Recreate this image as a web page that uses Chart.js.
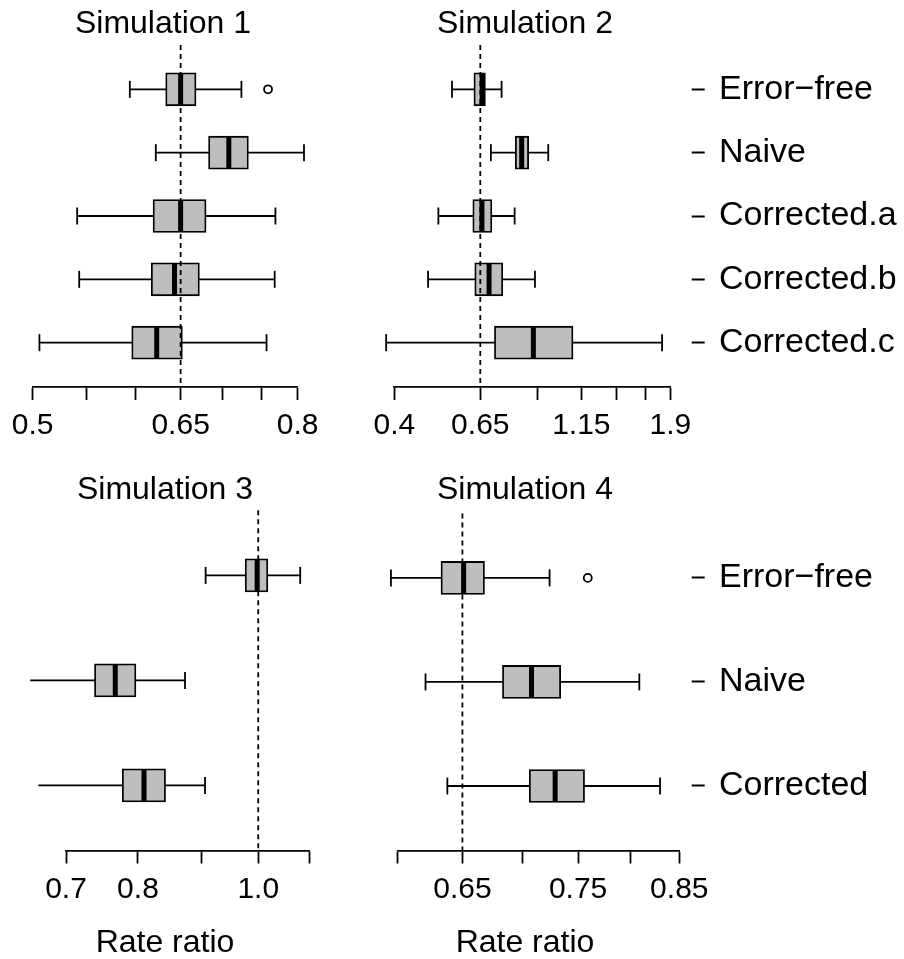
<!DOCTYPE html>
<html>
<head>
<meta charset="utf-8">
<script src="https://cdn.jsdelivr.net/npm/chart.js@4.4.1/dist/chart.umd.min.js"></script>
<style>
  html, body { margin: 0; padding: 0; background: #fff; }
  #page { position: relative; width: 904px; height: 959px; overflow: hidden; font-family: 'Liberation Sans', Arial, Helvetica, sans-serif; }
  canvas { position: absolute; }
  .lbl { position: absolute; width: 300px; text-align: center; font-size: 32px; line-height: 32px; color: #000; white-space: nowrap; }
</style>
</head>
<body>
<div id="page">
  <canvas id="sim1" width="340" height="479" style="left:0;top:0"></canvas>
  <canvas id="sim2" width="564" height="479" style="left:340px;top:0"></canvas>
  <canvas id="sim3" width="340" height="480" style="left:0;top:479px"></canvas>
  <canvas id="sim4" width="564" height="480" style="left:340px;top:479px"></canvas>
  <div class="lbl" style="left:13px;top:6px">Simulation 1</div>
  <div class="lbl" style="left:375px;top:6px">Simulation 2</div>
  <div class="lbl" style="left:15px;top:472px">Simulation 3</div>
  <div class="lbl" style="left:375px;top:472px">Simulation 4</div>
  <div class="lbl" style="left:15px;top:925px">Rate ratio</div>
  <div class="lbl" style="left:375px;top:925px">Rate ratio</div>
</div>
<script>
// ── Rate ratio boxplots, four simulations (log x axis) ───────────────────────
Chart.defaults.font.family = "'Liberation Sans', Arial, Helvetica, sans-serif";
Chart.defaults.color = '#000';

// Simulations 1 & 2 rows (top to bottom)
const ROWS_A = ['Error\u2212free', 'Naive', 'Corrected.a', 'Corrected.b', 'Corrected.c'];
// Simulations 3 & 4 rows
const ROWS_B = ['Error\u2212free', 'Naive', 'Corrected'];

// Simulation 1
const sim1Min = [0.594, 0.622, 0.541, 0.543, 0.506];
const sim1Q1  = [0.633, 0.683, 0.619, 0.617, 0.596];
const sim1Med = [0.650, 0.708, 0.650, 0.643, 0.623];
const sim1Q3  = [0.668, 0.733, 0.680, 0.672, 0.652];
const sim1Max = [0.724, 0.809, 0.769, 0.768, 0.757];
const sim1Out = [[0.759], [], [], [], []];
const sim1Ticks  = [0.5, 0.55, 0.6, 0.65, 0.7, 0.75, 0.8];
const sim1TickLb = ['0.5', '', '', '0.65', '', '', '0.8'];

// Simulation 2
const sim2Min = [0.554, 0.690, 0.513, 0.484, 0.382];
const sim2Q1  = [0.627, 0.792, 0.623, 0.630, 0.704];
const sim2Med = [0.657, 0.821, 0.656, 0.683, 0.877];
const sim2Q3  = [0.669, 0.854, 0.694, 0.738, 1.097];
const sim2Max = [0.733, 0.954, 0.789, 0.885, 1.814];
const sim2Out = [[], [], [], [], []];
const sim2Ticks  = [0.4, 0.65, 0.9, 1.15, 1.4, 1.65, 1.9];
const sim2TickLb = ['0.4', '0.65', '', '1.15', '', '', '1.9'];

// Simulation 3
const sim3Min = [0.907, 0.655, 0.665];
const sim3Q1  = [0.976, 0.738, 0.777];
const sim3Med = [0.998, 0.767, 0.809];
const sim3Q3  = [1.018, 0.797, 0.842];
const sim3Max = [1.081, 0.873, 0.906];
const sim3Out = [[], [], []];
const sim3Ticks  = [0.7, 0.8, 0.9, 1.0, 1.1];
const sim3TickLb = ['0.7', '0.8', '', '1.0', ''];

// Simulation 4
const sim4Min = [0.595, 0.621, 0.638];
const sim4Q1  = [0.633, 0.683, 0.706];
const sim4Med = [0.651, 0.708, 0.729];
const sim4Q3  = [0.668, 0.734, 0.756];
const sim4Max = [0.724, 0.809, 0.830];
const sim4Out = [[0.759], [], []];
const sim4Ticks  = [0.6, 0.65, 0.7, 0.75, 0.8, 0.85];
const sim4TickLb = ['', '0.65', '', '0.75', '', '0.85'];

// True rate ratio (dashed reference line)
const sim1Ref = 0.65, sim2Ref = 0.65, sim3Ref = 1.0, sim4Ref = 0.65;

const LW = 1.8;
const BOX_FILL = '#bebebe';

function buildPanel(p) {
  const n = p.rows.length;
  const yMin = 0.5 - 0.04 * n;
  const yMax = n + 0.5 + 0.04 * n;
  const rowY = p.rows.map((_, i) => i + 1);

  const whisk = [], caps = [], meds = [], outs = [];
  rowY.forEach((y, i) => {
    whisk.push({ x: p.min[i], y }, { x: p.max[i], y }, { x: null, y: null });
    caps.push({ x: p.min[i], y }, { x: p.max[i], y });
    meds.push({ x: p.med[i], y });
    p.out[i].forEach(v => outs.push({ x: v, y }));
  });

  new Chart(document.getElementById(p.id), {
    type: 'bar',
    data: {
      datasets: [
        { type: 'line', data: [{ x: p.ref, y: yMin }, { x: p.ref, y: yMax }],
          borderColor: '#000', borderWidth: LW, borderDash: [5, 4], pointRadius: 0, order: 0, clip: false },
        { type: 'scatter', data: meds, pointStyle: 'line', rotation: 90, radius: 15.5,
          borderColor: '#000', borderWidth: 5, order: 1, clip: false },
        { type: 'scatter', data: caps, pointStyle: 'line', rotation: 90, radius: 8.5,
          borderColor: '#000', borderWidth: LW, order: 1, clip: false },
        { type: 'scatter', data: outs, pointStyle: 'circle', radius: 4,
          borderColor: '#000', backgroundColor: '#fff', borderWidth: LW, order: 1, clip: false },
        { type: 'bar', data: rowY.map((y, i) => ({ y, x: [p.q1[i], p.q3[i]] })),
          backgroundColor: BOX_FILL, borderColor: '#000', borderWidth: LW, borderSkipped: false,
          grouped: false, barThickness: 33, maxBarThickness: 33, order: 2, clip: false },
        { type: 'line', data: whisk, borderColor: '#000', borderWidth: LW, pointRadius: 0,
          spanGaps: false, order: 3, clip: false },
      ],
    },
    options: {
      indexAxis: 'y',
      responsive: false,
      animation: false,
      events: [],
      layout: { padding: { left: p.padL, right: p.padR, top: p.padT, bottom: 0 } },
      plugins: { legend: { display: false }, tooltip: { enabled: false } },
      scales: {
        x: {
          type: 'logarithmic', position: 'bottom',
          min: p.ticks[0], max: p.ticks[p.ticks.length - 1],
          afterBuildTicks: s => { s.ticks = p.ticks.map(v => ({ value: v })); },
          afterFit: s => { s.height = p.axisH; },
          ticks: { autoSkip: false, maxRotation: 0, minRotation: 0, padding: 8,
                   font: { size: 30 }, color: '#000', callback: (v, i) => p.tickLb[i] },
          grid: { display: true, offset: false, drawOnChartArea: false, drawTicks: true, tickLength: 13,
                  tickWidth: LW, tickColor: '#000' },
          border: { display: true, color: '#000', width: LW },
        },
        y: {
          type: 'linear', position: 'right', display: p.showRows,
          min: yMin, max: yMax, reverse: true, offset: false,
          afterBuildTicks: s => { s.ticks = rowY.map(v => ({ value: v })); },
          afterFit: s => { s.width = p.rowAxisW; },
          ticks: { autoSkip: false, padding: 14, font: { size: 34 }, color: '#000',
                   callback: v => p.rows[Math.round(v) - 1] },
          grid: { display: true, offset: false, drawOnChartArea: false, drawTicks: true,
                  tickLength: p.tickGap + 13, tickWidth: LW, tickColor: '#000',
                  tickBorderDash: [0, p.tickGap, 13, 400] },
          border: { display: false },
        },
      },
    },
  });
}

buildPanel({ id: 'sim1', rows: ROWS_A, min: sim1Min, q1: sim1Q1, med: sim1Med, q3: sim1Q3, max: sim1Max,
  out: sim1Out, ticks: sim1Ticks, tickLb: sim1TickLb, ref: sim1Ref,
  padL: 32.7, padR: 340 - 297.7, padT: 45, axisH: 92, showRows: false, rowAxisW: 0, tickGap: 0 });

buildPanel({ id: 'sim2', rows: ROWS_A, min: sim2Min, q1: sim2Q1, med: sim2Med, q3: sim2Q3, max: sim2Max,
  out: sim2Out, ticks: sim2Ticks, tickLb: sim2TickLb, ref: sim2Ref,
  padL: 394.3 - 340, padR: 0, padT: 45, axisH: 92, showRows: true, rowAxisW: 904 - 670.3, tickGap: 692 - 670.3 });

buildPanel({ id: 'sim3', rows: ROWS_B, min: sim3Min, q1: sim3Q1, med: sim3Med, q3: sim3Q3, max: sim3Max,
  out: sim3Out, ticks: sim3Ticks, tickLb: sim3TickLb, ref: sim3Ref,
  padL: 66, padR: 340 - 309.6, padT: 510.3 - 479, axisH: 959 - 850.5, showRows: false, rowAxisW: 0, tickGap: 0 });

buildPanel({ id: 'sim4', rows: ROWS_B, min: sim4Min, q1: sim4Q1, med: sim4Med, q3: sim4Q3, max: sim4Max,
  out: sim4Out, ticks: sim4Ticks, tickLb: sim4TickLb, ref: sim4Ref,
  padL: 397.7 - 340, padR: 0, padT: 510.3 - 479, axisH: 959 - 850.5, showRows: true, rowAxisW: 904 - 679.3, tickGap: 692 - 679.3 });
</script>
</body>
</html>
